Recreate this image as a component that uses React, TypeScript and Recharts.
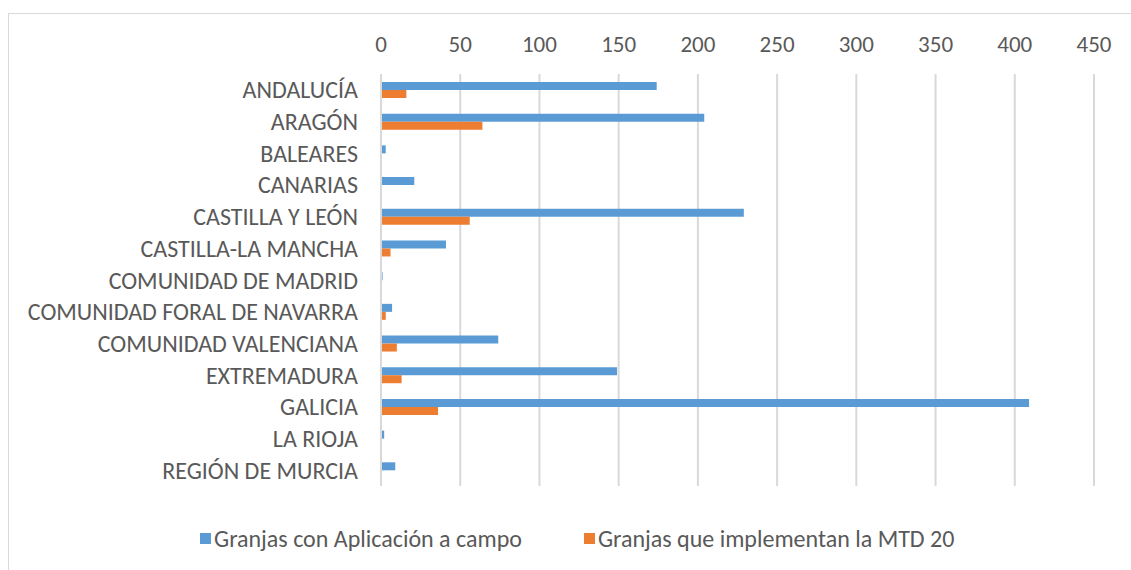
import React from "react";
import { BarChart, Bar, XAxis, YAxis, CartesianGrid } from "recharts";

const regions = [
  "ANDALUCÍA",
  "ARAGÓN",
  "BALEARES",
  "CANARIAS",
  "CASTILLA Y LEÓN",
  "CASTILLA-LA MANCHA",
  "COMUNIDAD DE MADRID",
  "COMUNIDAD FORAL DE NAVARRA",
  "COMUNIDAD VALENCIANA",
  "EXTREMADURA",
  "GALICIA",
  "LA RIOJA",
  "REGIÓN DE MURCIA",
];
const aplicacionCampo = [174, 204, 3, 21, 229, 41, 1, 7, 74, 149, 409, 2, 9];
const mtd20 = [16, 64, 0, 0, 56, 6, 0, 3, 10, 13, 36, 0.5, 0.5];
const xTicks = [0, 50, 100, 150, 200, 250, 300, 350, 400, 450];

const SERIES = [
  { key: "campo", name: "Granjas con Aplicación a campo", color: "#5b9bd5" },
  { key: "mtd", name: "Granjas que implementan la MTD 20", color: "#ed7d31" },
];

const data = regions.map((r, i) => ({ region: r, campo: aplicacionCampo[i], mtd: mtd20[i] }));

const FONT = "Carlito, 'Open Sans', 'Noto Sans', sans-serif";

function LegendBox() {
  return (
    <div
      style={{
        position: "absolute",
        left: 200,
        top: 524,
        display: "flex",
        gap: 62,
        fontFamily: FONT,
        fontSize: 24,
        color: "#595959",
        whiteSpace: "nowrap",
      }}
    >
      {SERIES.map((s) => (
        <div key={s.key} style={{ display: "flex", alignItems: "center" }}>
          <span style={{ display: "inline-block", width: 11, height: 11, background: s.color, marginRight: 3 }} />
          {s.name}
        </div>
      ))}
    </div>
  );
}

export default function App() {
  return (
    <div style={{ position: "absolute", left: 0, top: 0, width: 1131, height: 570, background: "#fff", overflow: "hidden" }}>
      <div style={{ position: "absolute", left: 8, top: 13, width: 1140, height: 570, border: "1px solid #d9d9d9" }} />
      <BarChart
        width={1131}
        height={570}
        data={data}
        layout="vertical"
        margin={{ top: 24, right: 37, bottom: 84, left: 0 }}
        barGap={0}
        barCategoryGap="24%"
        style={{ position: "absolute", left: 0, top: 0 }}
      >
        <CartesianGrid horizontal={false} stroke="#d9d9d9" strokeWidth={2} />
        <XAxis
          type="number"
          orientation="top"
          domain={[0, 450]}
          ticks={xTicks}
          axisLine={false}
          tickLine={false}
          height={50}
          tickMargin={16}
          tick={{ fill: "#595959", fontSize: 23, fontFamily: FONT }}
        />
        <YAxis
          type="category"
          dataKey="region"
          width={381}
          axisLine={{ stroke: "#d9d9d9", strokeWidth: 2 }}
          tickLine={false}
          tickMargin={17}
          interval={0}
          tick={{ fill: "#595959", fontSize: 24, fontFamily: FONT }}
        />
        {SERIES.map((s) => (
          <Bar key={s.key} dataKey={s.key} name={s.name} fill={s.color} barSize={8} isAnimationActive={false} />
        ))}
      </BarChart>
      <LegendBox />
    </div>
  );
}
